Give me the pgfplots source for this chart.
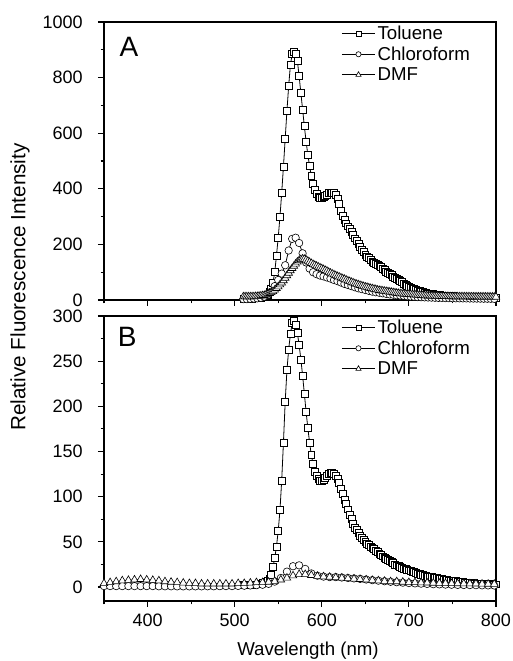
\documentclass[border=0pt]{standalone}
\usepackage{pgfplots}
\usepackage{pgfplotstable}
\pgfplotsset{compat=1.18}
\usepackage{fontspec}
\setmainfont{Liberation Sans}

\pgfplotstableread[row sep=\\]{x y\\
510 3\\ 512 3\\ 514 4\\ 516 4\\ 518 5\\ 520 5\\ 522 6\\ 524 6\\ 526 7\\ 528 8\\ 530 9\\ 532 10\\ 534 12\\ 536 15\\ 538 20\\ 540 28\\ 542 40\\ 544 62\\ 546 100\\ 548 160\\ 550 225\\ 552 300\\ 554 385\\ 556 480\\ 558 580\\ 560 680\\ 562 770\\ 564 845\\ 566 885\\ 568 892\\ 570 885\\ 572 860\\ 574 805\\ 576 745\\ 578 685\\ 580 625\\ 582 570\\ 584 522\\ 586 482\\ 588 447\\ 590 418\\ 592 397\\ 594 382\\ 596 372\\ 598 368\\ 600 368\\ 602 370\\ 604 375\\ 606 380\\ 608 384\\ 610 386\\ 612 386\\ 614 384\\ 616 377\\ 618 365\\ 620 345\\ 622 322\\ 624 302\\ 626 288\\ 628 276\\ 630 265\\ 632 255\\ 634 244\\ 636 233\\ 638 222\\ 640 212\\ 642 202\\ 644 192\\ 646 182\\ 648 172\\ 650 164\\ 652 157\\ 654 151\\ 656 145\\ 658 139\\ 660 134\\ 662 130\\ 664 126\\ 666 122\\ 668 118\\ 670 113\\ 672 108\\ 674 103\\ 676 98\\ 678 93\\ 680 89\\ 682 85\\ 684 81\\ 686 77\\ 688 73\\ 690 69\\ 692 64\\ 694 59\\ 696 54\\ 698 50\\ 700 47\\ 702 44\\ 704 42\\ 706 39\\ 708 36\\ 710 34\\ 712 32\\ 714 30\\ 716 28\\ 718 26\\ 720 25\\ 722 24\\ 724 23\\ 726 22\\ 728 21\\ 730 20\\ 732 19\\ 734 18\\ 736 17.5\\ 738 17\\ 740 16\\ 742 15.5\\ 744 15\\ 746 14.5\\ 748 14\\ 750 13.5\\ 752 13\\ 754 12.8\\ 756 12.5\\ 758 12.2\\ 760 12\\ 762 11.7\\ 764 11.4\\ 766 11\\ 768 10.8\\ 770 10.5\\ 772 10.2\\ 774 10\\ 776 9.8\\ 778 9.5\\ 780 9.3\\ 782 9\\ 784 8.8\\ 786 8.5\\ 788 8.3\\ 790 8\\ 792 7.8\\ 794 7.5\\ 796 7.3\\ 798 7\\ 800 7\\
}\tolA

\pgfplotstableread[row sep=\\]{x y\\
510 3\\ 514 3\\ 518 4\\ 522 5\\ 526 6\\ 530 8\\ 534 12\\ 538 18\\ 542 30\\ 546 50\\ 550 72\\ 554 95\\ 558 125\\ 562 178\\ 566 220\\ 570 224\\ 574 205\\ 578 168\\ 582 135\\ 586 113\\ 590 100\\ 594 93\\ 598 88\\ 602 85\\ 606 81\\ 610 77\\ 614 72\\ 618 68\\ 622 63\\ 626 58\\ 630 54\\ 634 50\\ 638 46\\ 642 42\\ 646 39\\ 650 36\\ 654 33\\ 658 30\\ 662 28\\ 666 26\\ 670 24\\ 674 22\\ 678 20\\ 682 19\\ 686 17\\ 690 16\\ 694 15\\ 698 13.5\\ 702 12.5\\ 706 11.5\\ 710 10.5\\ 714 10\\ 718 9.5\\ 722 9\\ 726 8.5\\ 730 8\\ 734 7.5\\ 738 7.2\\ 742 7\\ 746 6.7\\ 750 6.5\\ 754 6.2\\ 758 6\\ 762 5.8\\ 766 5.6\\ 770 5.4\\ 774 5.2\\ 778 5\\ 782 4.8\\ 786 4.6\\ 790 4.5\\ 794 4.3\\ 798 4.2\\
}\chlA

\pgfplotstableread[row sep=\\]{x y\\
510 12\\ 512 12\\ 514 12\\ 516 12\\ 518 12\\ 520 12\\ 522 12\\ 524 13\\ 526 13\\ 528 14\\ 530 15\\ 532 16\\ 534 17\\ 536 19\\ 538 21\\ 540 24\\ 542 27\\ 544 31\\ 546 36\\ 548 42\\ 550 48\\ 552 55\\ 554 62\\ 556 70\\ 558 79\\ 560 88\\ 562 97\\ 564 106\\ 566 114\\ 568 122\\ 570 130\\ 572 137\\ 574 142\\ 576 146\\ 578 148\\ 580 147\\ 582 144\\ 584 140\\ 586 136\\ 588 132\\ 590 128\\ 592 125\\ 594 122\\ 596 119\\ 598 116\\ 600 113\\ 602 110\\ 604 107\\ 606 104\\ 608 100\\ 610 97\\ 612 94\\ 614 91\\ 616 88\\ 618 85\\ 620 83\\ 622 80\\ 624 77\\ 626 75\\ 628 72\\ 630 69\\ 632 67\\ 634 64\\ 636 62\\ 638 59\\ 640 57\\ 642 55\\ 644 53\\ 646 51\\ 648 49\\ 650 47\\ 652 46\\ 654 44\\ 656 42\\ 658 41\\ 660 39\\ 662 38\\ 664 36\\ 666 35\\ 668 34\\ 670 33\\ 672 32\\ 674 31\\ 676 30\\ 678 29\\ 680 28\\ 682 27\\ 684 26\\ 686 25\\ 688 24\\ 690 23\\ 692 22.5\\ 694 22\\ 696 21.5\\ 698 21\\ 700 20.5\\ 702 20\\ 704 19.5\\ 706 19\\ 708 18.5\\ 710 18\\ 712 17.5\\ 714 17\\ 716 16.5\\ 718 16\\ 720 15.5\\ 722 15.2\\ 724 15\\ 726 14.7\\ 728 14.5\\ 730 14.2\\ 732 14\\ 734 13.8\\ 736 13.6\\ 738 13.4\\ 740 13.2\\ 742 13\\ 744 12.8\\ 746 12.6\\ 748 12.5\\ 750 12.4\\ 752 12.3\\ 754 12.2\\ 756 12.1\\ 758 12\\ 760 12\\ 762 11.9\\ 764 11.8\\ 766 11.8\\ 768 11.7\\ 770 11.6\\ 772 11.6\\ 774 11.5\\ 776 11.5\\ 778 11.4\\ 780 11.4\\ 782 11.3\\ 784 11.3\\ 786 11.2\\ 788 11.2\\ 790 11.1\\ 792 11.1\\ 794 11\\ 796 11\\ 798 11\\ 800 11\\
}\dmfA

\pgfplotstableread[row sep=\\]{x y\\
510 2\\ 512 2\\ 514 2\\ 516 2\\ 518 2\\ 520 2.5\\ 522 2.5\\ 524 3\\ 526 3\\ 528 3.5\\ 530 4\\ 532 4.5\\ 534 5\\ 536 6\\ 538 7\\ 540 9\\ 542 14\\ 544 22\\ 546 32\\ 548 45\\ 550 62\\ 552 85\\ 554 118\\ 556 160\\ 558 205\\ 560 240\\ 562 263\\ 564 280\\ 566 292\\ 568 295\\ 570 290\\ 572 281\\ 574 268\\ 576 252\\ 578 234\\ 580 214\\ 582 194\\ 584 176\\ 586 160\\ 588 146\\ 590 136\\ 592 128\\ 594 123\\ 596 120\\ 598 118\\ 600 118\\ 602 119\\ 604 121\\ 606 123\\ 608 125\\ 610 126\\ 612 126\\ 614 125\\ 616 123\\ 618 120\\ 620 115\\ 622 109\\ 624 103\\ 626 97\\ 628 92\\ 630 86\\ 632 80\\ 634 75\\ 636 70\\ 638 66\\ 640 63\\ 642 60\\ 644 57\\ 646 54.5\\ 648 52\\ 650 50\\ 652 48\\ 654 46.5\\ 656 45\\ 658 43.5\\ 660 42\\ 662 40.5\\ 664 39\\ 666 37\\ 668 35.5\\ 670 34\\ 672 32.5\\ 674 31\\ 676 30\\ 678 28.5\\ 680 27.5\\ 682 26.5\\ 684 25\\ 686 24\\ 688 23\\ 690 22.5\\ 692 21.5\\ 694 20.5\\ 696 20\\ 698 19\\ 700 18.5\\ 702 17.5\\ 704 17\\ 706 16.5\\ 708 15.5\\ 710 15\\ 712 14.5\\ 714 14\\ 716 13\\ 718 12.5\\ 720 12\\ 722 11.7\\ 724 11.4\\ 726 11\\ 728 10.6\\ 730 10.2\\ 732 9.8\\ 734 9.4\\ 736 9\\ 738 8.6\\ 740 8.2\\ 742 7.8\\ 744 7.6\\ 746 7.3\\ 748 7\\ 750 6.8\\ 752 6.6\\ 754 6.4\\ 756 6.2\\ 758 6\\ 760 5.8\\ 762 5.5\\ 764 5.2\\ 766 5\\ 768 4.8\\ 770 4.6\\ 772 4.4\\ 774 4.2\\ 776 4.1\\ 778 4\\ 780 3.9\\ 782 3.8\\ 784 3.7\\ 786 3.6\\ 788 3.5\\ 790 3.4\\ 792 3.3\\ 794 3.2\\ 796 3.1\\ 798 3\\ 800 3\\
}\tolB

\pgfplotstableread[row sep=\\]{x y\\
350 1\\ 357 1\\ 364 1\\ 371 1\\ 378 1\\ 385 1\\ 392 1\\ 399 1\\ 406 1\\ 413 0.8\\ 420 0.8\\ 427 0.8\\ 434 0.7\\ 441 0.7\\ 448 0.7\\ 455 0.7\\ 462 0.7\\ 469 0.8\\ 476 0.8\\ 483 0.9\\ 490 1\\ 497 1\\ 504 1.2\\ 511 1.4\\ 518 1.7\\ 525 2\\ 532 2.5\\ 539 3.5\\ 546 6\\ 553 10\\ 560 17\\ 567 23\\ 574 24\\ 581 20\\ 588 15\\ 595 12.5\\ 602 11.5\\ 609 11\\ 616 11\\ 623 10.5\\ 630 10\\ 637 9.5\\ 644 9\\ 651 8.3\\ 658 7.6\\ 665 7\\ 672 6.4\\ 679 5.8\\ 686 5.3\\ 693 4.8\\ 700 4.4\\ 707 4\\ 714 3.7\\ 721 3.4\\ 728 3.1\\ 735 2.9\\ 742 2.7\\ 749 2.5\\ 756 2.3\\ 763 2.2\\ 770 2.1\\ 777 2\\ 784 1.9\\ 791 1.8\\ 798 1.7\\
}\chlB

\pgfplotstableread[row sep=\\]{x y\\
350 4\\ 357 5\\ 364 6\\ 371 7\\ 378 7.5\\ 385 8\\ 392 8.5\\ 399 8\\ 406 7.5\\ 413 7\\ 420 6\\ 427 5.5\\ 434 5\\ 441 4.5\\ 448 4\\ 455 4\\ 462 3.5\\ 469 3.5\\ 476 3.5\\ 483 3.5\\ 490 3.5\\ 497 3.5\\ 504 4\\ 511 4\\ 518 4.5\\ 525 5\\ 532 5\\ 539 5.5\\ 546 6.5\\ 553 8\\ 560 10\\ 567 12.5\\ 574 14\\ 581 14\\ 588 13\\ 595 12\\ 602 11.5\\ 609 11\\ 616 10.5\\ 623 10\\ 630 9.5\\ 637 9\\ 644 8.5\\ 651 8\\ 658 7.5\\ 665 7\\ 672 6.5\\ 679 6\\ 686 6\\ 693 5.5\\ 700 5\\ 707 5\\ 714 4.8\\ 721 4.6\\ 728 4.4\\ 735 4.2\\ 742 4\\ 749 4\\ 756 3.8\\ 763 3.7\\ 770 3.6\\ 777 3.5\\ 784 3.4\\ 791 3.3\\ 798 3.2\\
}\dmfB

\pgfplotsset{
  tol/.style={black, line width=0.6pt, mark=square*, mark size=2.6pt, mark options={fill=white, line width=0.45pt, solid}},
  chl/.style={black, line width=0.6pt, mark=*, mark size=2.8pt, mark options={fill=white, line width=0.45pt, solid}},
  dmf/.style={black, line width=0.6pt, mark=triangle*, mark size=3.3pt, mark options={fill=white, line width=0.45pt, solid}},
  myax/.style={
    scale only axis, width=294pt,
    xmin=350, xmax=800,
    xtick={400,500,600,700,800}, minor xtick={350,450,550,650,750},
    tick pos=left, tick align=outside,
    major tick length=4.5pt, minor tick length=2.5pt,
    axis line style={line width=0.8pt},
    every tick/.style={black, line width=0.8pt},
    /pgf/number format/assume math mode=true,
    /pgf/number format/1000 sep={},
    scaled ticks=false,
    tick label style={font=\fontsize{13.5}{15}\selectfont},
    yticklabel style={xshift=-8pt},
    xticklabel style={yshift=-2pt},
    legend cell align=left,
    legend style={draw=none, fill=none, anchor=north west, at={(0.605,0.995)},
      font=\fontsize{14}{16}\selectfont, row sep=1pt, inner sep=0pt,
      nodes={inner sep=1.5pt}},
    legend image code/.code={
      \draw[##1] (0pt,0pt) -- (25pt,0pt);
      \draw[##1, every mark/.append style={scale=0.7}] plot coordinates {(12.5pt,0pt)};
    },
  }
}

\begin{document}
\begin{tikzpicture}
\path[use as bounding box] (0pt,0pt) rectangle (384pt,495.75pt);
\begin{axis}[myax, at={(78pt,270.75pt)}, anchor=south west, height=208.5pt,
  ymin=0, ymax=1000, ytick={0,200,...,1000}, minor ytick={100,300,...,900},
  xticklabels={}]
\addplot[tol] table {\tolA}; \addlegendentry{Toluene}
\addplot[chl] table {\chlA}; \addlegendentry{Chloroform}
\addplot[dmf] table {\dmfA}; \addlegendentry{DMF}
\node[font=\fontsize{21}{24}\selectfont] at (rel axis cs:0.064,0.91) {A};
\end{axis}
\begin{axis}[myax, at={(78pt,45pt)}, anchor=south west, height=213.75pt,
  ymin=-15.5, ymax=300, ytick={0,50,...,300}, minor ytick={25,75,...,275}]
\addplot[tol] table {\tolB}; \addlegendentry{Toluene}
\addplot[chl] table {\chlB}; \addlegendentry{Chloroform}
\addplot[dmf] table {\dmfB}; \addlegendentry{DMF}
\node[font=\fontsize{21}{24}\selectfont] at (rel axis cs:0.059,0.926) {B};
\end{axis}
\node[rotate=90, font=\fontsize{15.5}{18}\selectfont] at (15pt,280.5pt) {Relative Fluorescence Intensity};
\node[anchor=base, font=\fontsize{14}{16}\selectfont] at (231pt,4pt) {Wavelength (nm)};
\end{tikzpicture}
\end{document}
